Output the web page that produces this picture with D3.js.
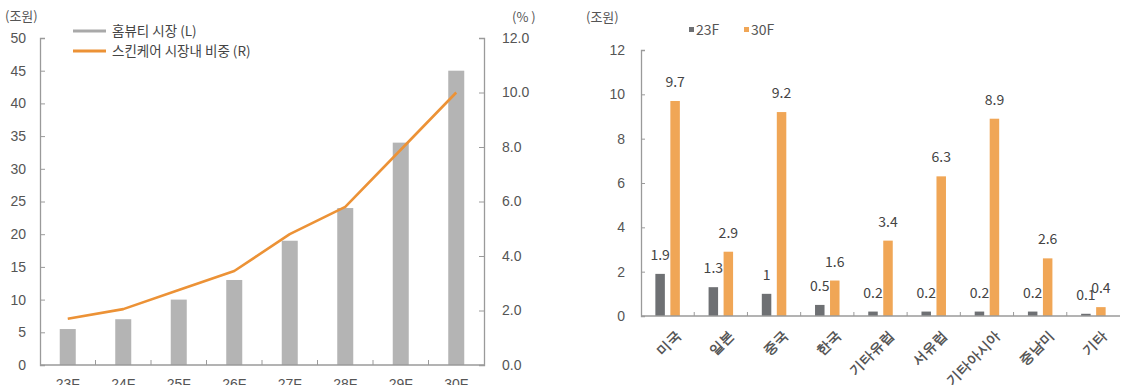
<!DOCTYPE html>
<html>
<head>
<meta charset="utf-8">
<script src="https://cdn.jsdelivr.net/npm/d3@7"></script>
<style>
  body { margin: 0; background: #fff; }
  svg { display: block; font-family: "Noto Sans CJK KR", "Noto Sans", sans-serif; }
  .tick text { fill: #555; }
</style>
</head>
<body>
<svg id="chart" width="1123" height="385"></svg>
<script>
// Left panel: home-beauty market size and skincare share
const years = ["23F", "24F", "25F", "26F", "27F", "28F", "29F", "30F"];
const marketSize = [5.5, 7.0, 10.0, 13.0, 19.0, 24.0, 34.0, 45.0];   // 조원
const skincareShare = [1.7, 2.05, 2.75, 3.45, 4.8, 5.8, 7.9, 10.0];   // %
const leftTicks = [0, 5, 10, 15, 20, 25, 30, 35, 40, 45, 50];
const rightTicks = [0, 2, 4, 6, 8, 10, 12];

// Right panel: market by region, 23F vs 30F
const regions = ["미국", "일본", "중국", "한국", "기타유럽", "서유럽", "기타아시아", "중남미", "기타"];
const v23 = [1.9, 1.3, 1.0, 0.5, 0.2, 0.2, 0.2, 0.2, 0.1];
const v30 = [9.7, 2.9, 9.2, 1.6, 3.4, 6.3, 8.9, 2.6, 0.4];
const regionTicks = [0, 2, 4, 6, 8, 10, 12];

const svg = d3.select("#chart");
const axisColor = "#9a9a9a";
const textColor = "#555";

function styleAxis(g) {
  g.select(".domain").attr("stroke", axisColor).attr("stroke-width", 1.3);
  g.selectAll(".tick line").attr("stroke", axisColor);
  g.selectAll(".tick text").attr("font-size", 14).attr("fill", textColor);
}

// ---------- left panel ----------
const L = { x0: 40, x1: 484, y0: 38, y1: 365 };
const xL = d3.scaleBand().domain(years).range([L.x0, L.x1]);
const yL = d3.scaleLinear().domain([0, 50]).range([L.y1, L.y0]);
const yR = d3.scaleLinear().domain([0, 12]).range([L.y1, L.y0]);

svg.append("g").selectAll("rect").data(years).join("rect")
  .attr("x", (d) => xL(d) + xL.bandwidth() / 2 - 8)
  .attr("width", 16)
  .attr("y", (d, i) => yL(marketSize[i]))
  .attr("height", (d, i) => yL(0) - yL(marketSize[i]))
  .attr("fill", "#b4b4b4");

svg.append("path")
  .datum(skincareShare)
  .attr("fill", "none")
  .attr("stroke", "#ec9236")
  .attr("stroke-width", 2.6)
  .attr("stroke-linejoin", "round")
  .attr("d", d3.line().x((d, i) => xL(years[i]) + xL.bandwidth() / 2).y((d) => yR(d)));

svg.append("g").attr("transform", `translate(${L.x0},0)`)
  .call(d3.axisLeft(yL).tickValues(leftTicks).tickSize(-5).tickPadding(14))
  .call(styleAxis);

svg.append("g").attr("transform", `translate(${L.x1},0)`)
  .call(d3.axisRight(yR).tickValues(rightTicks).tickSize(-5).tickPadding(18).tickFormat(d3.format(".1f")))
  .call(styleAxis);

// category boundary ticks on the x axis
const xAxisL = svg.append("g").attr("transform", `translate(0,${L.y1})`)
  .call(d3.axisBottom(xL).tickSize(0).tickPadding(14))
  .call(styleAxis);
xAxisL.select(".domain").attr("d", `M${L.x0},0H${L.x1}`);
svg.append("g").selectAll("line").data(years.slice(1)).join("line")
  .attr("x1", (d) => xL(d)).attr("x2", (d) => xL(d))
  .attr("y1", L.y1).attr("y2", L.y1 - 5)
  .attr("stroke", axisColor);

svg.append("text").attr("x", 5).attr("y", 21).attr("font-size", 13).attr("fill", textColor).text("(조원)");
svg.append("text").attr("x", 512).attr("y", 22).attr("font-size", 13).attr("fill", textColor).text("(% )");

// legend
const legL = [
  { label: "홈뷰티 시장 (L)", color: "#a9a9a9", y: 31 },
  { label: "스킨케어 시장내 비중 (R)", color: "#ec9236", y: 51 }
];
legL.forEach((d) => {
  svg.append("line").attr("x1", 73).attr("x2", 106).attr("y1", d.y).attr("y2", d.y)
    .attr("stroke", d.color).attr("stroke-width", 3);
  svg.append("text").attr("x", 112).attr("y", d.y + 5).attr("font-size", 13.5).attr("fill", "#444").text(d.label);
});

// ---------- right panel ----------
const R = { x0: 641, x1: 1120, y0: 50, y1: 316 };
const xG = d3.scaleBand().domain(regions).range([R.x0, R.x1]);
const yG = d3.scaleLinear().domain([0, 12]).range([R.y1, R.y0]);
const barW = 9.5, off = 7.5;
const series = [
  { name: "23F", values: v23, color: "#6e7073", dx: -off },
  { name: "30F", values: v30, color: "#f0a656", dx: off }
];

series.forEach((s) => {
  const cx = (d) => xG(d) + xG.bandwidth() / 2 + s.dx;
  svg.append("g").selectAll("rect").data(regions).join("rect")
    .attr("x", (d) => cx(d) - barW / 2)
    .attr("width", barW)
    .attr("y", (d, i) => yG(s.values[i]))
    .attr("height", (d, i) => yG(0) - yG(s.values[i]))
    .attr("fill", s.color);
  svg.append("g").selectAll("text").data(regions).join("text")
    .attr("x", (d) => cx(d))
    .attr("y", (d, i) => yG(s.values[i]) - 14)
    .attr("text-anchor", "middle")
    .attr("font-size", 14)
    .attr("fill", "#444")
    .text((d, i) => s.values[i]);
});

svg.append("g").attr("transform", `translate(${R.x0},0)`)
  .call(d3.axisLeft(yG).tickValues(regionTicks).tickSize(-4).tickPadding(16))
  .call(styleAxis);

const xAxisR = svg.append("g").attr("transform", `translate(0,${R.y1})`)
  .call(d3.axisBottom(xG).tickSize(0).tickPadding(10))
  .call(styleAxis);
xAxisR.select(".domain").attr("d", `M${R.x0},0H${R.x1}`);
xAxisR.selectAll(".tick text")
  .attr("font-size", 13.5)
  .attr("font-weight", "bold")
  .attr("fill", "#333")
  .attr("text-anchor", "end")
  .attr("dy", "0.35em")
  .attr("transform", "translate(4,10) rotate(-45)");
svg.append("g").selectAll("line").data(regions.slice(1)).join("line")
  .attr("x1", (d) => xG(d)).attr("x2", (d) => xG(d))
  .attr("y1", R.y1).attr("y2", R.y1 - 4)
  .attr("stroke", axisColor);

svg.append("text").attr("x", 586).attr("y", 22).attr("font-size", 13).attr("fill", textColor).text("(조원)");

// legend
[{ name: "23F", color: "#6e7073", x: 689 }, { name: "30F", color: "#f0a656", x: 744 }].forEach((d) => {
  svg.append("rect").attr("x", d.x).attr("y", 27).attr("width", 5).attr("height", 5).attr("fill", d.color);
  svg.append("text").attr("x", d.x + 7).attr("y", 35).attr("font-size", 14).attr("fill", textColor).text(d.name);
});
</script>
</body>
</html>
